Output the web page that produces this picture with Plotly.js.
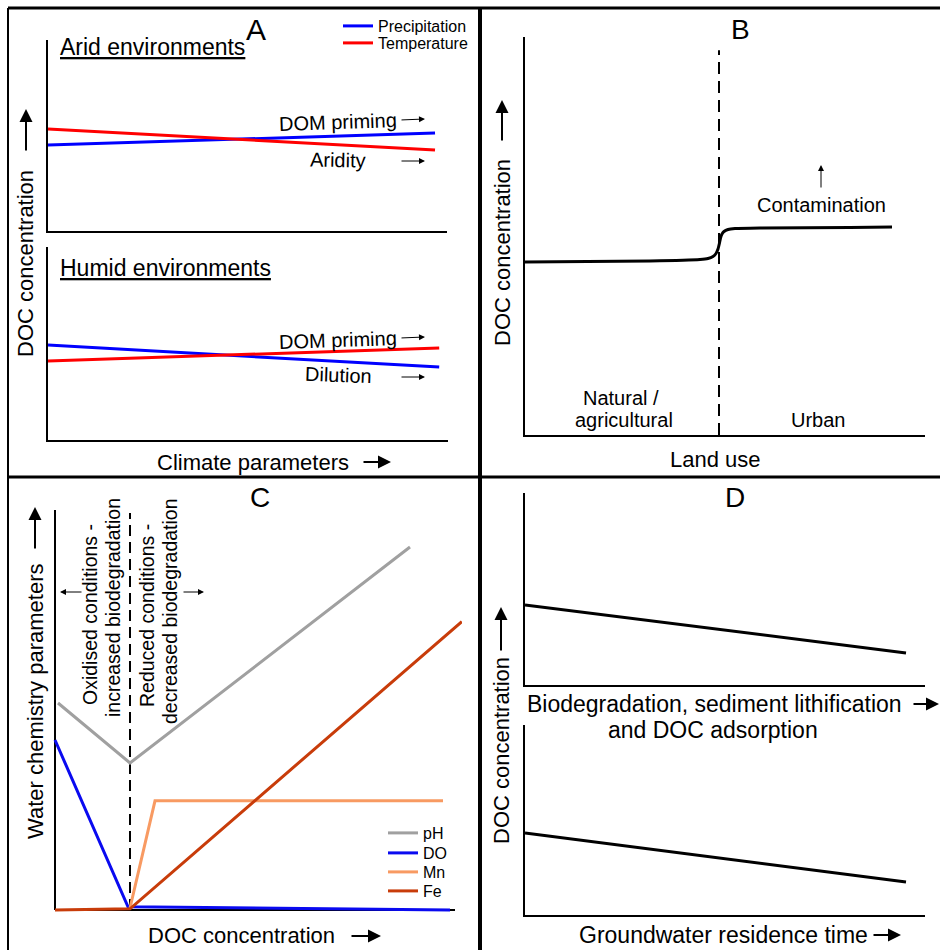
<!DOCTYPE html>
<html>
<head>
<meta charset="utf-8">
<script src="https://cdn.plot.ly/plotly-3.0.1.min.js"></script>
<style>html,body{margin:0;padding:0;background:#fff;}#chart{width:940px;height:950px;}</style>
</head>
<body>
<div id="chart"></div>
<script>
// ---------- Data (conceptual values, 0-10 scales) ----------
// Panel A - arid environments
const aridX = [0, 9.7];
const aridPrecip = [4.50, 5.13];
const aridTemp = [5.34, 4.24];
// Panel A - humid environments
const humidX = [0, 9.78];
const humidPrecip = [4.92, 3.78];
const humidTemp = [4.09, 4.77];
// Panel B - land use
const landX = [0, 3.125, 4.375, 4.575, 4.7, 4.775, 4.825, 4.8625, 4.8875, 4.925, 4.975, 5.075, 5.25, 5.875, 8.125, 9.175];
const landDOC = [4.347, 4.372, 4.41, 4.435, 4.485, 4.56, 4.673, 4.824, 4.95, 5.05, 5.113, 5.163, 5.188, 5.201, 5.214, 5.226];
const landBoundaryX = [4.85, 4.85];
const landBoundaryY = [0, 9.67];
// Panel C - water chemistry vs DOC
const phX = [0.075, 1.875, 8.875];
const phY = [5.175, 3.675, 9.075];
const doX = [0, 1.825, 9.875];
const doY = [4.25, 0.08, 0];
const mnX = [1.875, 2.5, 9.7];
const mnY = [0.05, 2.73, 2.73];
const feX = [0, 1.875, 10.17];
const feY = [0, 0.03, 7.21];
const redoxBoundaryX = [1.875, 1.875];
const redoxBoundaryY = [0, 9.925];
// Panel D
const bioX = [0, 9.525];
const bioDOC = [4.17, 1.67];
const resX = [0, 9.525];
const resDOC = [4.32, 1.74];

// ---------- Layout helpers ----------
const W = 940, H = 950;
const FONT = 'Liberation Sans, Arial, sans-serif';
const px = v => v / W;
const py = v => 1 - v / H;
const xdom = (a, b) => [a / W, b / W];
const ydom = (top, bottom) => [1 - bottom / H, 1 - top / H];

function axis(dom, anchor, range, showline) {
  return {domain: dom, anchor: anchor, range: range, showgrid: false, zeroline: false,
    showticklabels: false, ticks: '', showline: showline, linecolor: 'black', linewidth: 2,
    fixedrange: true};
}
function txt(text, x, y, size, opts) {
  return Object.assign({xref: 'paper', yref: 'paper', x: px(x), y: py(y), text: text,
    showarrow: false, font: {size: size, family: FONT, color: 'black'},
    xanchor: 'center', yanchor: 'middle'}, opts || {});
}
function arrow(tx, ty, hx, hy, w, s) {
  return {xref: 'paper', yref: 'paper', x: px(hx), y: py(hy), ax: tx - hx, ay: ty - hy,
    axref: 'pixel', ayref: 'pixel', text: '', showarrow: true, arrowhead: 2,
    arrowsize: s, arrowwidth: w, arrowcolor: 'black', standoff: 0, startstandoff: 0};
}
function pline(x0, y0, x1, y1, w) {
  return {type: 'line', xref: 'paper', yref: 'paper', x0: px(x0), y0: py(y0), x1: px(x1), y1: py(y1),
    line: {color: 'black', width: w}};
}
function leg(x, y, size) {
  return {x: px(x), y: py(y), xanchor: 'left', yanchor: 'middle', bgcolor: 'rgba(0,0,0,0)',
    font: {size: size, family: FONT, color: 'black'}, tracegroupgap: 0};
}

const BLUE = '#0000ff', RED = '#ff0000';
const traces = [
  // A upper
  {x: aridX, y: aridPrecip, xaxis: 'x', yaxis: 'y', mode: 'lines', name: 'Precipitation',
   line: {color: BLUE, width: 3}, legend: 'legend'},
  {x: aridX, y: aridTemp, xaxis: 'x', yaxis: 'y', mode: 'lines', name: 'Temperature',
   line: {color: RED, width: 3}, legend: 'legend3'},
  // A lower
  {x: humidX, y: humidPrecip, xaxis: 'x2', yaxis: 'y2', mode: 'lines', name: 'Precipitation',
   line: {color: BLUE, width: 3}, showlegend: false},
  {x: humidX, y: humidTemp, xaxis: 'x2', yaxis: 'y2', mode: 'lines', name: 'Temperature',
   line: {color: RED, width: 3}, showlegend: false},
  // B
  {x: landBoundaryX, y: landBoundaryY, xaxis: 'x3', yaxis: 'y3', mode: 'lines', showlegend: false,
   line: {color: 'black', width: 2, dash: '12px,7px'}},
  {x: landX, y: landDOC, xaxis: 'x3', yaxis: 'y3', mode: 'lines', showlegend: false,
   line: {color: 'black', width: 3, shape: 'spline', smoothing: 0.5}},
  // C
  {x: redoxBoundaryX, y: redoxBoundaryY, xaxis: 'x4', yaxis: 'y4', mode: 'lines', showlegend: false,
   line: {color: 'black', width: 2, dash: '11px,6px'}},
  {x: phX, y: phY, xaxis: 'x4', yaxis: 'y4', mode: 'lines', name: 'pH',
   line: {color: '#a0a0a0', width: 3}, legend: 'legend2'},
  {x: doX, y: doY, xaxis: 'x4', yaxis: 'y4', mode: 'lines', name: 'DO',
   line: {color: '#0a0af0', width: 3}, legend: 'legend4'},
  {x: mnX, y: mnY, xaxis: 'x4', yaxis: 'y4', mode: 'lines', name: 'Mn',
   line: {color: '#f89a62', width: 3}, legend: 'legend5'},
  {x: feX, y: feY, xaxis: 'x4', yaxis: 'y4', mode: 'lines', name: 'Fe',
   line: {color: '#c83c0a', width: 3}, legend: 'legend6'},
  // D
  {x: bioX, y: bioDOC, xaxis: 'x5', yaxis: 'y5', mode: 'lines', showlegend: false,
   line: {color: 'black', width: 3}},
  {x: resX, y: resDOC, xaxis: 'x6', yaxis: 'y6', mode: 'lines', showlegend: false,
   line: {color: 'black', width: 3}}
];

const annotations = [
  // Panel A
  txt('A', 256, 30, 30),
  txt('<u>Arid environments</u>', 58, 47, 23, {xanchor: 'left'}),
  txt('<u>Humid environments</u>', 58, 268, 23, {xanchor: 'left'}),
  txt('DOM priming', 338, 122, 20, {textangle: -2}),
  arrow(400, 120, 425, 119, 1, 1.2),
  txt('Aridity', 338, 160, 20, {textangle: 1}),
  arrow(400, 161, 425, 161, 1, 1.2),
  txt('DOM priming', 338, 340, 20, {textangle: -2}),
  arrow(400, 338, 425, 337, 1, 1.2),
  txt('Dilution', 338, 375, 20, {textangle: 2}),
  arrow(400, 377, 425, 377, 1, 1.2),
  txt('Climate parameters', 155, 462, 22, {xanchor: 'left'}),
  arrow(362, 462, 391, 462, 2, 1.3),
  txt('DOC concentration', 26, 264, 22, {textangle: -90}),
  arrow(26, 152, 26, 109, 2, 1.3),
  // Panel B
  txt('B', 740, 30, 28),
  txt('Contamination', 821, 205, 20),
  arrow(821, 189, 821, 165, 1, 1.2),
  txt('Natural /', 621, 398, 20),
  txt('agricultural', 624, 420, 20),
  txt('Urban', 818, 420, 20),
  txt('Land use', 715, 460, 22),
  txt('DOC concentration', 502, 253, 22, {textangle: -90}),
  arrow(502, 142, 502, 100, 2, 1.3),
  // Panel C
  txt('C', 260, 497, 28),
  txt('Oxidised conditions -', 90, 615, 19.5, {textangle: -90}),
  txt('increased biodegradation', 113, 608, 19.5, {textangle: -90}),
  txt('Reduced conditions -', 147, 616, 19.5, {textangle: -90}),
  txt('decreased biodegradation', 170, 611, 19.5, {textangle: -90}),
  arrow(83, 592, 60, 592, 1, 1.2),
  arrow(182, 592, 204, 592, 1, 1.2),
  txt('Water chemistry parameters', 35, 702, 22, {textangle: -90}),
  arrow(35, 550, 35, 507, 2, 1.3),
  txt('DOC concentration', 241, 935, 22),
  arrow(350, 936, 381, 936, 2, 1.3),
  // Panel D
  txt('D', 735, 497, 28),
  txt('Biodegradation, sediment lithification', 525, 704, 23, {xanchor: 'left'}),
  arrow(912, 704, 939, 704, 2, 1.3),
  txt('and DOC adsorption', 713, 730, 23),
  txt('Groundwater residence time', 577, 935, 23, {xanchor: 'left'}),
  arrow(872, 935, 901, 935, 2, 1.3),
  txt('DOC concentration', 501, 751, 22, {textangle: -90}),
  arrow(501, 652, 501, 607, 2, 1.3)
];

const shapes = [
  // panel frames
  pline(8, 8, 940, 8, 3),
  pline(8, 8, 8, 950, 2),
  pline(480, 8, 480, 950, 4),
  pline(8, 477, 940, 477, 3),
  // panel C axes
  {type: 'line', xref: 'x4', yref: 'y4', x0: 0, y0: 0, x1: 10, y1: 0, layer: 'below',
   line: {color: 'black', width: 2}},
  {type: 'line', xref: 'x4', yref: 'y4', x0: 0, y0: 0, x1: 0, y1: 10, layer: 'below',
   line: {color: 'black', width: 2}}
];

const layout = {
  width: W, height: H, margin: {l: 0, r: 0, t: 0, b: 0},
  paper_bgcolor: 'white', plot_bgcolor: 'rgba(0,0,0,0)',
  font: {family: FONT, color: 'black'},
  xaxis: axis(xdom(48, 447), 'y', [0, 10], true),
  yaxis: axis(ydom(40, 231), 'x', [0, 10], true),
  xaxis2: axis(xdom(48, 448), 'y2', [0, 10], true),
  yaxis2: axis(ydom(247, 440), 'x2', [0, 10], true),
  xaxis3: axis(xdom(525, 925), 'y3', [0, 10], true),
  yaxis3: axis(ydom(37, 435), 'x3', [0, 10], true),
  xaxis4: axis(xdom(52, 462), 'y4', [-0.075, 10.175], false),
  yaxis4: axis(ydom(510, 916), 'x4', [-0.15, 10], false),
  xaxis5: axis(xdom(525, 925), 'y5', [0, 10], true),
  yaxis5: axis(ydom(493, 685), 'x5', [0, 10], true),
  xaxis6: axis(xdom(525, 925), 'y6', [0, 10], true),
  yaxis6: axis(ydom(725, 915), 'x6', [0, 10], true),
  legend: leg(338, 26, 16),
  legend3: leg(338, 43, 16),
  legend2: leg(383, 833, 16),
  legend4: leg(383, 853, 16),
  legend5: leg(383, 872, 16),
  legend6: leg(383, 891, 16),
  annotations: annotations,
  shapes: shapes
};

Plotly.newPlot('chart', traces, layout, {staticPlot: true, displayModeBar: false});
</script>
</body>
</html>
